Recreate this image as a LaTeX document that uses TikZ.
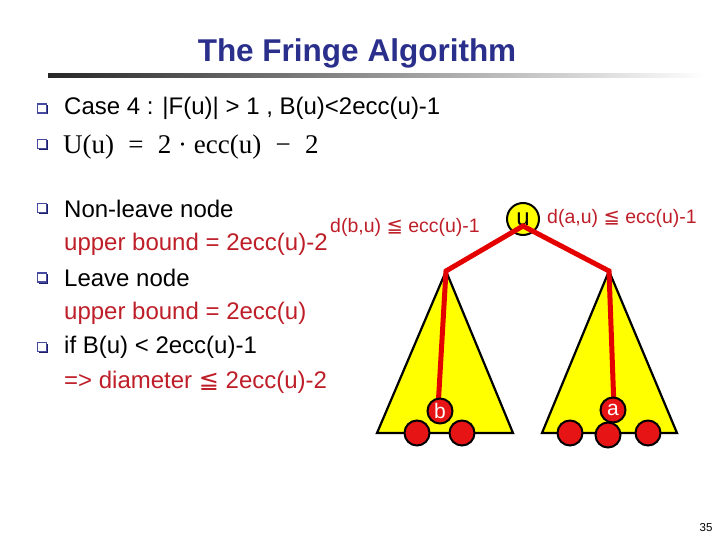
\documentclass[tikz,border=0pt]{standalone}
\usepackage{fontspec}
\setmainfont{Liberation Sans}
\newfontfamily\serifm{Liberation Serif}
\newfontfamily\symf{DejaVu Sans}
\definecolor{ttlblue}{RGB}{43,47,140}
\definecolor{txtred}{RGB}{190,30,40}
\definecolor{nodered}{RGB}{230,20,20}
\definecolor{triyellow}{RGB}{255,255,0}
\definecolor{bulblue}{RGB}{70,74,160}
\definecolor{bulshadow}{RGB}{30,30,100}
\newcommand{\myleq}{{\symf ≦}}
\usetikzlibrary{calc}
\tikzset{
  bodytext/.style={anchor=west, inner sep=0pt, font=\fontsize{24}{28}\selectfont},
  redtext/.style={bodytext, text=txtred},
  smallred/.style={anchor=west, inner sep=0pt, text=txtred, font=\fontsize{19.5}{22}\selectfont},
  tri/.style={draw=black, line width=2.2pt, fill=triyellow, line join=miter},
  redpath/.style={draw=red!90!black, line width=5pt, line join=miter},
  leaf/.style={circle, draw=black, line width=2pt, fill=nodered, minimum size=25pt, inner sep=0pt},
  lbl/.style={leaf, text=white, font=\fontsize{21}{21}\selectfont},
}
\newcommand{\bulletbox}[1]{%
  \fill[bulshadow] ($(#1)+(-3.5,-3.5)$) rectangle ($(#1)+(6,6)$);
  \filldraw[draw=bulblue, fill=white, line width=1.8pt] ($(#1)+(-4.5,-4.5)$) rectangle ($(#1)+(4.5,4.5)$);
}
\begin{document}
\begin{tikzpicture}[x=1pt, y=-1pt]
\useasboundingbox (0,0) rectangle (720,540);
% title
\node[text=ttlblue, font=\bfseries\fontsize{31.5}{34}\selectfont] (title) at (357,53) {The Fringe Algorithm};
\shade[left color=black!85, right color=white] (48,73.5) rectangle (705,77.5);
% bullets
\coordinate (b1) at (42,108.5);
\coordinate (b2) at (42,144);
\coordinate (b3) at (42,208);
\coordinate (b4) at (42,277.5);
\coordinate (b5) at (42,347);
\foreach \b in {b1,b2,b3,b4,b5} {\bulletbox{\b}}
\node[bodytext] (l1) at (64,108) {Case 4 : |F(u)| > 1 , B(u)<2ecc(u)-1};
\node[anchor=west, inner sep=0pt, font=\serifm\fontsize{27}{30}\selectfont] (l2) at (63,147) {U(u) \;=\; 2 · ecc(u) \;−\; 2};
\node[bodytext] (l3) at (64,209) {Non-leave node};
\node[redtext] (l4) at (64,244) {upper bound = 2ecc(u)-2};
\node[bodytext] (l5) at (64,278) {Leave node};
\node[redtext] (l6) at (64,313) {upper bound = 2ecc(u)};
\node[bodytext] (l7) at (64,347) {if B(u) < 2ecc(u)-1};
\node[redtext] (l8) at (64,382) {=> diameter \myleq\ 2ecc(u)-2};
% tree labels
\node[smallred] (db) at (330,227) {d(b,u) \myleq\ ecc(u)-1};
\node[smallred] (da) at (547,218) {d(a,u) \myleq\ ecc(u)-1};
% triangles
\coordinate (lt) at (446,271);
\coordinate (rt) at (609,271);
\filldraw[tri] (lt) -- (513,433) -- (377,433) -- cycle;
\filldraw[tri] (rt) -- (677,433) -- (542,433) -- cycle;
% leaves
\node[leaf] (x1) at (417,433) {};
\node[leaf] (x2) at (462,433) {};
\node[leaf] (y1) at (570,433) {};
\node[leaf] (y3) at (648,433) {};
\node[leaf] (y2) at (608,435) {};
% root
\node[circle, draw=black, line width=2pt, fill=triyellow, minimum size=32pt, inner sep=0pt, font=\fontsize{24}{24}\selectfont] (u) at (523,219) {u};
\coordinate (uc) at (523,226);
\coordinate (bc) at (438,408);
\coordinate (ac) at (614,408);
\draw[redpath] (bc) -- (lt) -- (uc) -- (rt) -- (ac);
\node[lbl] (b) at (440,411) {b};
\node[lbl] (a) at (613,410) {a};
\node[font=\fontsize{11.5}{11.5}\selectfont, inner sep=0pt] (pg) at (706,528) {35};
\end{tikzpicture}
\end{document}
